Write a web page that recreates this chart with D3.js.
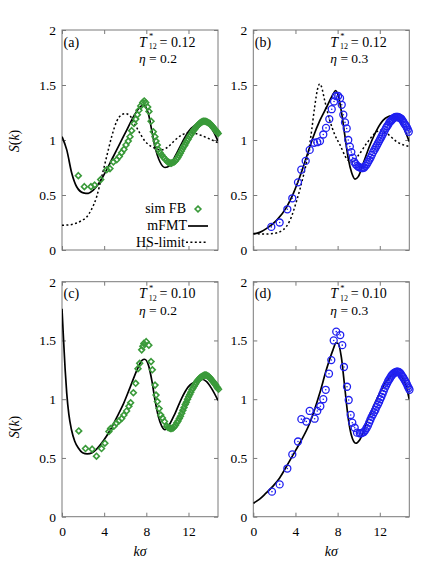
<!DOCTYPE html>
<html>
<head>
<meta charset="utf-8">
<script src="https://cdn.jsdelivr.net/npm/d3@7"></script>
<style>
  body { margin: 0; background: #fff; }
  svg { display: block; font-family: "Liberation Serif", "Times New Roman", serif; }
</style>
</head>
<body>
<svg id="chart" width="436" height="561"></svg>
<script>
// tick values
const xTicks = [0, 4, 8, 12];
const yTicks = [0, 0.5, 1, 1.5, 2];

// sim FB, eta = 0.2, T12* = 0.12  [k, S]
const simA = [[1.55,0.676],[2.12,0.576],[2.75,0.576],[3.10,0.59],[3.67,0.64],[4.24,0.73],[4.55,0.74],[4.87,0.80],[5.19,0.82],[5.44,0.85],[5.66,0.885],[5.88,0.915],[6.07,0.955],[6.29,0.99],[6.45,1.03],[6.61,1.085],[6.83,1.15],[7.00,1.19],[7.15,1.23],[7.30,1.27],[7.47,1.31],[7.66,1.34],[7.80,1.355],[7.94,1.34],[8.13,1.30],[8.25,1.26],[8.45,1.17],[8.66,1.075],[8.82,1.03],[8.92,0.99],[9.04,0.955],[9.14,0.915],[9.30,0.885],[9.45,0.865],[9.60,0.845],[9.75,0.83],[9.90,0.815],[10.03,0.80],[10.15,0.795],[10.27,0.79],[10.39,0.79],[10.51,0.795],[10.63,0.80],[10.75,0.81],[10.87,0.825],[10.99,0.84],[11.10,0.86],[11.22,0.88],[11.33,0.90],[11.44,0.92],[11.55,0.94],[11.66,0.955],[11.77,0.975],[11.88,0.995],[11.98,1.01],[12.09,1.03],[12.19,1.045],[12.30,1.06],[12.40,1.075],[12.50,1.09],[12.60,1.10],[12.70,1.115],[12.80,1.125],[12.90,1.135],[12.99,1.145],[13.09,1.155],[13.19,1.16],[13.28,1.165],[13.38,1.17],[13.47,1.17],[13.57,1.17],[13.66,1.168],[13.75,1.165],[13.84,1.16],[13.94,1.155],[14.03,1.15],[14.12,1.14],[14.21,1.13],[14.30,1.12],[14.38,1.11],[14.47,1.10],[14.56,1.09],[14.65,1.08],[14.73,1.07],[14.82,1.06]];

// sim FB, eta = 0.3, T12* = 0.12
const simB = [[1.71,0.21],[2.50,0.25],[3.23,0.37],[3.70,0.47],[4.24,0.615],[4.55,0.73],[4.97,0.81],[5.35,0.91],[5.76,0.975],[6.07,0.98],[6.33,0.99],[6.64,1.05],[6.90,1.11],[7.21,1.19],[7.44,1.28],[7.66,1.35],[7.85,1.40],[8.05,1.40],[8.23,1.38],[8.39,1.32],[8.54,1.23],[8.70,1.16],[8.86,1.105],[9.01,1.0],[9.16,0.94],[9.30,0.89],[9.44,0.84],[9.58,0.80],[9.72,0.78],[9.86,0.765],[10.00,0.755],[10.13,0.75],[10.26,0.745],[10.39,0.745],[10.52,0.75],[10.65,0.765],[10.77,0.78],[10.89,0.80],[11.01,0.82],[11.13,0.84],[11.25,0.865],[11.37,0.89],[11.49,0.91],[11.60,0.93],[11.72,0.95],[11.83,0.97],[11.94,0.99],[12.05,1.01],[12.16,1.03],[12.27,1.05],[12.38,1.07],[12.49,1.09],[12.60,1.11],[12.70,1.125],[12.81,1.14],[12.91,1.16],[13.02,1.17],[13.12,1.18],[13.22,1.19],[13.32,1.20],[13.42,1.205],[13.52,1.21],[13.62,1.21],[13.72,1.21],[13.82,1.205],[13.91,1.20],[14.01,1.195],[14.10,1.185],[14.20,1.17],[14.29,1.155],[14.39,1.14],[14.48,1.13],[14.57,1.115],[14.66,1.095],[14.75,1.075]];

// sim FB, eta = 0.2, T12* = 0.10
const simC = [[1.59,0.73],[2.23,0.58],[2.86,0.575],[3.27,0.515],[3.75,0.58],[4.07,0.625],[4.45,0.725],[4.61,0.75],[4.92,0.77],[5.15,0.795],[5.40,0.815],[5.66,0.835],[5.87,0.865],[6.13,0.90],[6.35,0.94],[6.51,0.97],[6.77,1.055],[6.99,1.135],[7.21,1.26],[7.37,1.305],[7.56,1.42],[7.67,1.45],[7.77,1.475],[7.99,1.49],[8.24,1.46],[8.45,1.32],[8.57,1.25],[8.83,1.12],[8.92,1.035],[9.05,0.98],[9.21,0.92],[9.37,0.865],[9.53,0.84],[9.72,0.81],[9.94,0.77],[10.06,0.76],[10.18,0.755],[10.30,0.75],[10.42,0.75],[10.54,0.755],[10.66,0.765],[10.78,0.78],[10.90,0.80],[11.01,0.815],[11.13,0.835],[11.24,0.855],[11.36,0.88],[11.47,0.905],[11.58,0.93],[11.69,0.955],[11.80,0.975],[11.91,1.00],[12.01,1.02],[12.12,1.04],[12.22,1.06],[12.33,1.08],[12.43,1.095],[12.53,1.11],[12.63,1.125],[12.73,1.14],[12.83,1.155],[12.93,1.165],[13.03,1.175],[13.12,1.185],[13.22,1.19],[13.31,1.195],[13.41,1.20],[13.50,1.205],[13.60,1.205],[13.69,1.205],[13.78,1.20],[13.87,1.195],[13.96,1.19],[14.05,1.18],[14.14,1.17],[14.23,1.16],[14.32,1.15],[14.41,1.14],[14.50,1.13],[14.59,1.12],[14.68,1.105],[14.76,1.095],[14.85,1.085]];

// sim FB, eta = 0.3, T12* = 0.10
const simD = [[1.77,0.213],[2.50,0.275],[3.23,0.41],[3.70,0.53],[4.24,0.64],[4.56,0.83],[5.03,0.81],[5.35,0.90],[5.82,0.834],[6.07,0.90],[6.36,0.94],[6.64,1.0],[6.87,1.08],[7.18,1.217],[7.40,1.333],[7.63,1.50],[7.87,1.575],[8.25,1.546],[8.44,1.46],[8.60,1.274],[8.89,1.106],[9.05,0.993],[9.24,0.866],[9.39,0.80],[9.62,0.757],[9.84,0.715],[10.10,0.71],[10.23,0.71],[10.36,0.715],[10.49,0.72],[10.62,0.735],[10.75,0.755],[10.87,0.775],[10.99,0.80],[11.11,0.825],[11.23,0.85],[11.35,0.87],[11.47,0.89],[11.59,0.91],[11.70,0.935],[11.82,0.955],[11.93,0.975],[12.04,1.0],[12.15,1.02],[12.26,1.045],[12.37,1.07],[12.48,1.095],[12.59,1.115],[12.70,1.135],[12.80,1.155],[12.91,1.17],[13.01,1.185],[13.11,1.20],[13.21,1.21],[13.31,1.22],[13.41,1.225],[13.51,1.23],[13.61,1.235],[13.71,1.235],[13.81,1.23],[13.90,1.225],[14.00,1.215],[14.09,1.20],[14.19,1.19],[14.28,1.175],[14.38,1.16],[14.47,1.145],[14.56,1.13],[14.65,1.11],[14.74,1.095],[14.82,1.08]];

// mFMT curves
const fmtA = [[0,1.03],[0.45,0.91],[0.92,0.70],[1.39,0.575],[2.02,0.52],[2.50,0.515],[2.97,0.545],[3.60,0.62],[4.24,0.73],[4.87,0.85],[5.50,0.97],[6.14,1.09],[6.77,1.21],[7.40,1.30],[7.72,1.32],[8.19,1.24],[8.51,1.09],[8.82,0.94],[9.30,0.80],[9.77,0.75],[10.25,0.77],[10.72,0.85],[11.36,0.97],[11.98,1.075],[12.62,1.135],[13.25,1.16],[13.73,1.15],[14.20,1.105],[14.80,0.99]];
const fmtB = [[0,0.145],[0.6,0.16],[1.27,0.197],[2.21,0.27],[3.16,0.39],[3.80,0.515],[4.43,0.67],[5.06,0.85],[5.69,1.03],[6.33,1.18],[6.96,1.30],[7.59,1.42],[7.80,1.45],[8.07,1.40],[8.39,1.24],[8.70,1.03],[9.01,0.83],[9.34,0.70],[9.65,0.645],[9.96,0.667],[10.44,0.79],[11.07,0.955],[11.71,1.09],[12.33,1.18],[13.13,1.22],[13.60,1.21],[14.23,1.12],[14.80,0.985]];
const fmtC = [[0,1.77],[0.15,1.50],[0.30,1.25],[0.45,1.05],[0.65,0.87],[0.90,0.74],[1.20,0.645],[1.55,0.585],[1.95,0.545],[2.40,0.535],[2.86,0.545],[3.33,0.58],[3.96,0.65],[4.59,0.74],[5.22,0.85],[5.85,0.965],[6.48,1.105],[7.12,1.25],[7.59,1.33],[7.83,1.34],[8.20,1.29],[8.52,1.16],[8.83,0.99],[9.15,0.85],[9.46,0.77],[9.77,0.74],[10.09,0.77],[10.73,0.88],[11.36,1.01],[11.98,1.105],[12.62,1.15],[13.25,1.17],[13.72,1.15],[14.20,1.09],[14.80,0.99]];
const fmtD = [[0,0.114],[0.60,0.15],[1.20,0.20],[1.87,0.26],[2.50,0.33],[3.13,0.425],[3.80,0.53],[4.40,0.625],[5.35,0.795],[6.30,1.05],[6.93,1.25],[7.56,1.42],[7.85,1.48],[8.04,1.475],[8.35,1.36],[8.67,1.106],[8.99,0.85],[9.30,0.695],[9.72,0.625],[10.09,0.653],[10.72,0.795],[11.67,0.993],[12.62,1.15],[13.42,1.22],[13.89,1.206],[14.36,1.15],[14.80,1.0]];

// HS-limit curves (top row only)
const hsA = [[0,0.225],[0.8,0.23],[1.39,0.245],[1.9,0.27],[2.34,0.30],[2.8,0.37],[3.29,0.485],[3.77,0.667],[4.24,0.85],[4.71,1.03],[5.19,1.17],[5.66,1.23],[6.0,1.24],[6.45,1.22],[6.93,1.14],[7.40,1.06],[7.87,0.99],[8.19,0.96],[8.82,0.925],[9.46,0.91],[10.09,0.94],[10.72,1.0],[11.36,1.045],[11.98,1.067],[12.62,1.06],[13.25,1.04],[13.88,1.015],[14.80,0.975]];
const hsB = [[0,0.15],[1.0,0.145],[1.9,0.15],[2.85,0.185],[3.48,0.27],[4.12,0.45],[4.74,0.67],[5.22,0.88],[5.54,1.09],[5.82,1.30],[6.14,1.48],[6.30,1.51],[6.45,1.49],[6.77,1.36],[7.25,1.18],[7.72,1.05],[8.23,0.955],[8.86,0.83],[9.34,0.80],[9.96,0.86],[10.76,0.97],[11.71,1.075],[12.02,1.09],[12.66,1.06],[13.6,0.985],[14.8,0.94]];

const panels = [
  { tag: "(a)", T: "0.12", eta: "0.2", sim: simA, fmt: fmtA, hs: hsA, marker: "diamond", left: 62, top: 30, h: 220, xlabels: false, ylab: true },
  { tag: "(b)", T: "0.12", eta: "0.3", sim: simB, fmt: fmtB, hs: hsB, marker: "circle", left: 253.3, top: 30, h: 220, xlabels: false, ylab: false },
  { tag: "(c)", T: "0.10", eta: "0.2", sim: simC, fmt: fmtC, hs: null, marker: "diamond", left: 62, top: 281.7, h: 235, xlabels: true, ylab: true },
  { tag: "(d)", T: "0.10", eta: "0.3", sim: simD, fmt: fmtD, hs: null, marker: "circle", left: 253.3, top: 281.7, h: 235, xlabels: true, ylab: false }
];

const W = 156;
const frameColor = "#7a7a7a";
const green = "#3a9a3a";
const blue = "#2020f0";
const serif = "Liberation Serif, serif";

const svg = d3.select("#chart");

function drawMarker(sel, kind) {
  if (kind === "diamond") {
    sel.append("path")
      .attr("d", "M0,-2.9L2.9,0L0,2.9L-2.9,0Z")
      .attr("fill", "none")
      .attr("stroke", green)
      .attr("stroke-width", 1.6);
  } else {
    sel.append("circle").attr("r", 3.5)
      .attr("fill", "none").attr("stroke", blue).attr("stroke-width", 1.3);
    sel.append("circle").attr("r", 0.8).attr("fill", blue);
  }
}

panels.forEach((p, i) => {
  const x = d3.scaleLinear().domain([0, 14.8]).range([p.left, p.left + W]);
  const y = d3.scaleLinear().domain([0, 2]).range([p.top + p.h, p.top]);
  const g = svg.append("g");

  const clipId = "clip" + i;
  svg.append("clipPath").attr("id", clipId)
    .append("rect").attr("x", p.left).attr("y", p.top).attr("width", W).attr("height", p.h);

  // ticks on all four sides, pointing inward
  const axes = [
    [d3.axisBottom(x).tickValues(xTicks), `translate(0,${p.top + p.h})`, p.xlabels, "x"],
    [d3.axisTop(x).tickValues(xTicks), `translate(0,${p.top})`, false, "x"],
    [d3.axisLeft(y).tickValues(yTicks), `translate(${p.left},0)`, true, "y"],
    [d3.axisRight(y).tickValues(yTicks), `translate(${p.left + W},0)`, false, "y"]
  ];
  axes.forEach(([ax, tr, showLabels, dir]) => {
    ax.tickSize(-4).tickPadding(showLabels ? (dir === "x" ? 10 : 6) : 0)
      .tickFormat(showLabels ? d3.format("") : () => "");
    const a = g.append("g").attr("transform", tr).call(ax)
      .attr("font-family", serif).attr("font-size", 13.5);
    a.select(".domain").remove();
    a.selectAll(".tick line").attr("stroke", frameColor);
    a.selectAll("text").attr("fill", "#000");
    if (!showLabels) a.selectAll("text").remove();
  });

  g.append("rect")
    .attr("x", p.left).attr("y", p.top).attr("width", W).attr("height", p.h)
    .attr("fill", "none").attr("stroke", frameColor).attr("stroke-width", 1);

  const line = d3.line().x(d => x(d[0])).y(d => y(d[1])).curve(d3.curveMonotoneX);

  const plot = g.append("g").attr("clip-path", `url(#${clipId})`);
  if (p.hs) {
    plot.append("path").attr("d", line(p.hs))
      .attr("fill", "none").attr("stroke", "#000").attr("stroke-width", 1.5)
      .attr("stroke-dasharray", "2,2.4");
  }

  g.selectAll(null).data(p.sim).enter().append("g")
    .attr("transform", d => `translate(${x(d[0])},${y(d[1])})`)
    .each(function () { drawMarker(d3.select(this), p.marker); });

  plot.append("path").attr("d", line(p.fmt))
    .attr("fill", "none").attr("stroke", "#000").attr("stroke-width", 1.7);

  // annotations
  const base = p.top + 16.5;
  const x0 = p.left + 77;
  const ann = g.append("g").attr("font-family", serif).attr("fill", "#000");
  ann.append("text").attr("x", p.left + 1.5).attr("y", base).attr("font-size", 14).text(p.tag);
  ann.append("text").attr("x", x0).attr("y", base).attr("font-size", 14)
    .attr("font-style", "italic").text("T");
  ann.append("text").attr("x", x0 + 10).attr("y", base - 7.5).attr("font-size", 8.5).text("*");
  ann.append("text").attr("x", x0 + 9.8).attr("y", base + 2.5).attr("font-size", 8).text("12");
  ann.append("text").attr("x", x0 + 20.5).attr("y", base).attr("font-size", 14).text("= " + p.T);
  ann.append("text").attr("x", x0).attr("y", base + 16.3).attr("font-size", 13.5)
    .html(`<tspan font-style="italic">η</tspan> = ${p.eta}`);

  if (p.ylab) {
    const cy = i < 2 ? 141 : 427;
    ann.append("text").attr("transform", `translate(19,${cy}) rotate(-90)`)
      .attr("text-anchor", "middle").attr("font-size", 14)
      .html('<tspan font-style="italic">S</tspan>(<tspan font-style="italic">k</tspan>)');
  }
  if (p.xlabels) {
    ann.append("text").attr("x", p.left + 78).attr("y", 556).attr("text-anchor", "middle")
      .attr("font-size", 14).attr("font-style", "italic").text("kσ");
  }

  // legend in panel (a)
  if (i === 0) {
    const lg = g.append("g").attr("font-size", 14).attr("font-family", serif).attr("text-anchor", "end");
    lg.append("text").attr("x", 186).attr("y", 213).text("sim FB");
    drawMarker(lg.append("g").attr("transform", "translate(198,209)"), "diamond");
    lg.append("text").attr("x", 187).attr("y", 230).text("mFMT");
    lg.append("line").attr("x1", 188).attr("x2", 208).attr("y1", 226).attr("y2", 226)
      .attr("stroke", "#000").attr("stroke-width", 1.7);
    lg.append("text").attr("x", 185).attr("y", 246.5).text("HS-limit");
    lg.append("line").attr("x1", 186).attr("x2", 208).attr("y1", 242.3).attr("y2", 242.3)
      .attr("stroke", "#000").attr("stroke-width", 1.5).attr("stroke-dasharray", "2,2.4");
  }
});
</script>
</body>
</html>
